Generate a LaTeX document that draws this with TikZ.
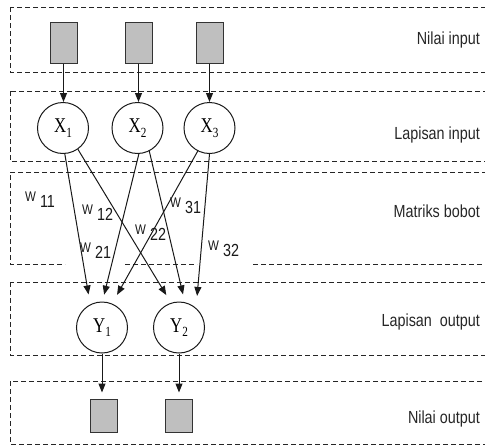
\documentclass[tikz,border=0pt]{standalone}
\usepackage{fontspec}
\setmainfont{Liberation Sans}[FakeStretch=0.82]
\newfontfamily\serifx{Liberation Serif}[FakeStretch=0.8]
\usetikzlibrary{arrows.meta}
\newcommand\nsub[1]{\raisebox{-4.5pt}{\fontsize{14}{14}\selectfont #1}}
\newcommand\wlab[1]{\raisebox{6pt}{\fontsize{14}{14}\selectfont W}\ #1}
\begin{document}
\begin{tikzpicture}[x=1pt,y=-1pt,
  dbox/.style={draw=black!85, line width=1pt, dash pattern=on 5pt off 3pt},
  sq/.style={draw=black!80, fill=black!25, line width=1pt, minimum width=27pt, minimum height=41pt, inner sep=0pt},
  osq/.style={sq, minimum height=33pt},
  neuron/.style={circle, draw=black!90, line width=1pt, minimum size=51pt, inner sep=0pt, font=\serifx\fontsize{21}{21}\selectfont},
  conn/.style={draw=black!90, line width=1pt, -{Triangle[length=9pt,width=7pt]}},
  lbl/.style={anchor=east, inner sep=0pt, font=\fontsize{17.5}{17.5}\selectfont, text=black!85},
  wl/.style={anchor=base west, inner sep=0pt, font=\fontsize{17.5}{17.5}\selectfont, text=black!90}]
\clip (0,0) rectangle (485,445);
% dashed layer boxes
\draw[dbox] (10,7) rectangle (495,72);
\draw[dbox] (10,91) rectangle (495,161);
\draw[dbox] (495,172) -- (10,172) -- (10,264) -- (65,264);
\draw[dbox] (125,264) -- (197,264);
\draw[dbox] (253,264) -- (495,264);
\draw[dbox] (10,282) rectangle (495,355);
\draw[dbox] (10,381) rectangle (495,444);
% input values
\node[sq] (i1) at (63.5,42.5) {};
\node[sq] (i2) at (138.5,42.5) {};
\node[sq] (i3) at (209.5,42.5) {};
% input layer
\node[neuron] (X1) at (63,128) {X\nsub{1}};
\node[neuron] (X2) at (137.5,128) {X\nsub{2}};
\node[neuron] (X3) at (209.5,128) {X\nsub{3}};
% output layer
\node[neuron] (Y1) at (102,327.5) {Y\nsub{1}};
\node[neuron] (Y2) at (179,327.5) {Y\nsub{2}};
% output values
\node[osq] (o1) at (103.5,415.5) {};
\node[osq] (o2) at (179,415.5) {};
% arrows
\draw[conn] (i1.south) -- (i1.south |- X1.north);
\draw[conn] (i2.south) -- (i2.south |- X2.north);
\draw[conn] (i3.south) -- (i3.south |- X3.north);
\draw[conn, shorten >=10pt] (X1.-86) -- (Y1.117);
\draw[conn, shorten >=9pt] (X1.-55) -- (Y2.108);
\draw[conn, shorten >=7pt] (X2.-87) -- (Y1.89);
\draw[conn, shorten >=8pt] (X2.-63) -- (Y2.77);
\draw[conn, shorten >=10pt] (X3.-117) -- (Y1.67);
\draw[conn, shorten >=12pt] (X3.-90) -- (Y2.49);
\draw[conn, shorten >=6pt] (Y1.south) -- (Y1.south |- o1.north);
\draw[conn, shorten >=6pt] (Y2.south) -- (Y2.south |- o2.north);
% weight labels
\node[wl] (w11) at (25,207) {\wlab{11}};
\node[wl] (w12) at (82,220) {\wlab{12}};
\node[wl] (w21) at (80,258) {\wlab{21}};
\node[wl] (w31) at (170,213) {\wlab{31}};
\node[wl] (w22) at (135,240) {\wlab{22}};
\node[wl] (w32) at (208,256) {\wlab{32}};
% layer labels
\node[lbl] (l1) at (480,40) {Nilai input};
\node[lbl] (l2) at (480,135) {Lapisan input};
\node[lbl] (l3) at (480,211) {Matriks bobot};
\node[lbl] (l4) at (480,322) {Lapisan\ \ output};
\node[lbl] (l5) at (480,419) {Nilai output};
\end{tikzpicture}
\end{document}
